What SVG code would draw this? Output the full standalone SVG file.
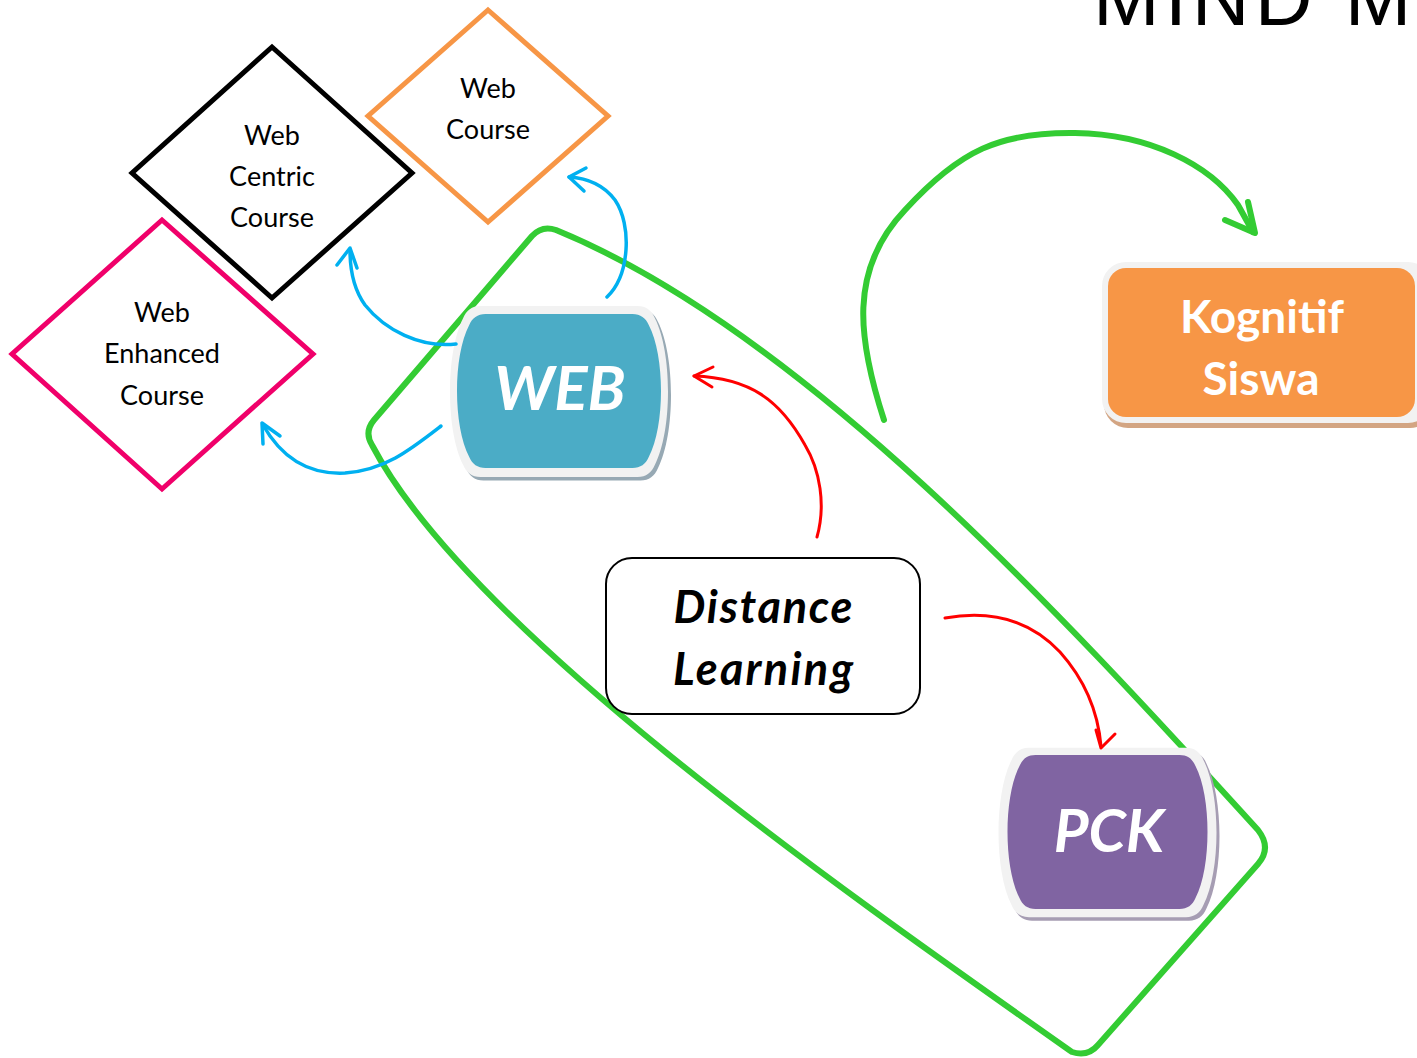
<svg xmlns="http://www.w3.org/2000/svg" width="1417" height="1058" viewBox="0 0 1417 1058">
  <style>
    .lbl { font-family: Lato, "Liberation Sans", sans-serif; font-size: 27px; fill: #000; text-anchor: middle; }
    .big { font-family: Lato, "Liberation Sans", sans-serif; font-weight: bold; fill: #fff; text-anchor: middle; }
    .dl { font-family: Lato, "Liberation Sans", sans-serif; font-size: 45px; font-weight: bold; font-style: italic; fill: #000; text-anchor: middle; }
    .dia { fill: #fff; stroke-width: 5; stroke-linejoin: miter; }
    .blue { fill: none; stroke: #00B0F0; stroke-width: 3.5; stroke-linecap: round; stroke-linejoin: round; }
    .red { fill: none; stroke: #FF0000; stroke-width: 3; stroke-linecap: round; stroke-linejoin: round; }
    .green { fill: none; stroke: #33CC33; stroke-width: 6; stroke-linecap: round; stroke-linejoin: round; }
  </style>
  <defs>
    <!-- barrel shaped node: flat top/bottom, bulging sides -->
    <path id="barrel" d="M -72,-77 L 72,-77 C 80,-77 85,-73 88,-66 C 104,-35 104,35 88,66 C 85,73 80,77 72,77 L -72,77 C -80,77 -85,73 -88,66 C -104,35 -104,-35 -88,-66 C -85,-73 -80,-77 -72,-77 Z"/>
  </defs>

  <rect width="1417" height="1058" fill="#fff"/>

  <!-- title -->
  <text x="1093" y="25" font-family="'Liberation Sans', sans-serif" font-size="80" letter-spacing="5" fill="#000">MIND M</text>

  <!-- grouping outline -->
  <g id="cluster">
    <path class="green" d="M 556,230 C 800,330 1058,610 1258,830 Q 1272,848 1258,864 L 1098,1045 Q 1088,1057 1072,1052 C 830,882 468,628 372,445 Q 364,432 374,420 L 532,236 Q 542,225 556,230 Z"/>
  </g>

  <g id="web-course">
    <polygon class="dia" stroke="#F79646" points="488,10 608,116 488,222 368,116"/>
    <text class="lbl" x="488" y="98">Web</text>
    <text class="lbl" x="488" y="139">Course</text>
  </g>

  <g id="web-centric-course">
    <polygon class="dia" stroke="#000" points="272,47 412,173 272,298 132,173"/>
    <text class="lbl" x="272" y="145">Web</text>
    <text class="lbl" x="272" y="186">Centric</text>
    <text class="lbl" x="272" y="227">Course</text>
  </g>

  <g id="web-enhanced-course">
    <polygon class="dia" stroke="#F0006A" points="162,220 313,354 162,489 12,354"/>
    <text class="lbl" x="162" y="322">Web</text>
    <text class="lbl" x="162" y="363">Enhanced</text>
    <text class="lbl" x="162" y="405">Course</text>
  </g>

  <g id="web">
    <use href="#barrel" transform="translate(562,395) scale(1.09,1.11)" fill="#97A9B4"/>
    <use href="#barrel" transform="translate(559,391.5) scale(1.09,1.11)" fill="#F2F2F2"/>
    <use href="#barrel" transform="translate(559,391) scale(1.02,1.0)" fill="#4BACC6"/>
    <text class="big" x="560" y="410" font-size="62" font-style="italic">WEB</text>
  </g>

  <g id="pck">
    <use href="#barrel" transform="translate(1110.5,836) scale(1.09,1.1)" fill="#A69DB3"/>
    <use href="#barrel" transform="translate(1107.5,832.5) scale(1.09,1.1)" fill="#F2F2F2"/>
    <use href="#barrel" transform="translate(1107.5,832) scale(1.0,1.0)" fill="#8064A2"/>
    <text class="big" x="1109" y="852" font-size="60" font-style="italic">PCK</text>
  </g>

  <g id="kognitif-siswa">
    <rect x="1104" y="266" width="330" height="162" rx="24" fill="#D3A583"/>
    <rect x="1102" y="262" width="330" height="161" rx="24" fill="#F2F2F2"/>
    <rect x="1108" y="268" width="307" height="149" rx="18" fill="#F79646"/>
    <text class="big" x="1262" y="333" font-size="46">Kognitif</text>
    <text class="big" x="1261" y="395" font-size="46">Siswa</text>
  </g>

  <g id="distance-learning">
    <rect x="606" y="558" width="314" height="156" rx="26" fill="#fff" stroke="#000" stroke-width="2"/>
    <text class="dl" x="763" y="623" textLength="179">Distance</text>
    <text class="dl" x="763" y="685" textLength="180">Learning</text>
  </g>

  <g id="connectors">
    <!-- WEB to the three course types -->
    <path class="blue" d="M 607,297 C 630,275 632,225 615,200 C 603,184 585,178 569,177"/>
    <path class="blue" d="M 586,168 L 569,177 L 584,191"/>
    <path class="blue" d="M 456,344 C 420,348 385,330 365,305 C 352,287 350,265 350,250"/>
    <path class="blue" d="M 337,265 L 350,248 L 357,268"/>
    <path class="blue" d="M 441,426 C 410,450 385,470 345,473 C 305,475 280,455 263,425"/>
    <path class="blue" d="M 280,436 L 262,423 L 263,444"/>
    <!-- Distance Learning to WEB and PCK -->
    <path class="red" d="M 817,537 C 826,505 820,470 805,445 C 780,400 750,378 694,376"/>
    <path class="red" d="M 713,367 L 694,376 L 712,387"/>
    <path class="red" d="M 945,618 C 990,610 1030,620 1060,652 C 1085,680 1098,712 1101,746"/>
    <path class="red" d="M 1096,730 L 1101,748 L 1115,734"/>
    <!-- cluster to Kognitif Siswa -->
    <path class="green" stroke-width="6.5" d="M 884,420 C 858,340 848,270 905,210 C 960,150 1000,132 1075,133 C 1150,134 1210,165 1238,205 L 1253,232"/>
    <path class="green" stroke-width="7" d="M 1225,220 L 1255,233 L 1248,202"/>
  </g>
</svg>
